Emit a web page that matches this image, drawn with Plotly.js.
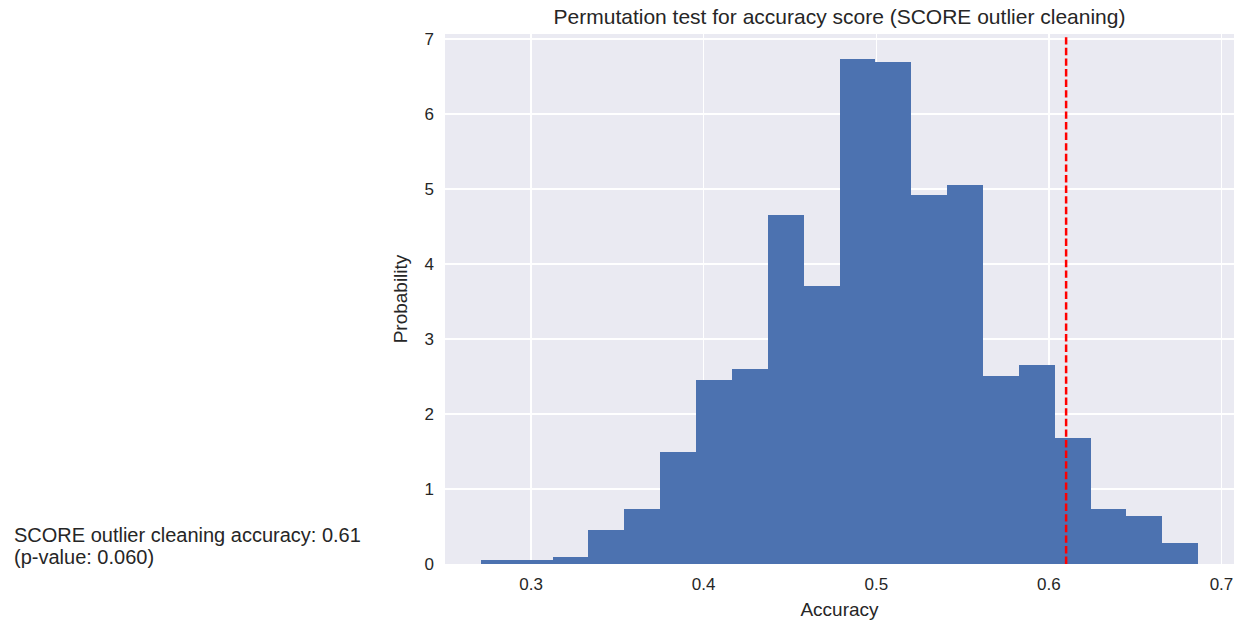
<!DOCTYPE html>
<html>
<head>
<meta charset="utf-8">
<script src="https://cdn.plot.ly/plotly-3.0.1.min.js"></script>
<style>
  html, body { margin: 0; padding: 0; background: #ffffff; }
  #chart { width: 1246px; height: 624px; }
</style>
</head>
<body>
<div id="chart"></div>
<script>
// Permutation scores histogram: range of permuted accuracies and density per bin
const scoreMin = 0.2709;
const scoreMax = 0.6865;
const binDensity = [
  0.048, 0.048, 0.097, 0.453, 0.737, 1.49, 2.457, 2.60, 4.657, 3.71,
  6.733, 6.693, 4.924, 5.06, 2.507, 2.648, 1.68, 0.739, 0.64, 0.284
];

// Observed score of the model and its permutation p-value
const observedScore = 0.61;
const pValue = 0.060;
const methodName = "SCORE outlier cleaning";

const xTickVals = [0.3, 0.4, 0.5, 0.6, 0.7];
const yTickVals = [0, 1, 2, 3, 4, 5, 6, 7];

// equal-width bins between the min and max permuted score
const nBins = binDensity.length;
const binWidth = (scoreMax - scoreMin) / nBins;
const binCenters = binDensity.map((_, i) => scoreMin + binWidth * (i + 0.5));

// matplotlib-style 5% margins on x, 5% headroom on y
const span = scoreMax - scoreMin;
const xRange = [scoreMin - 0.05 * span, scoreMax + 0.05 * span];
const yRange = [0, Math.max(...binDensity) * 1.05];

const textColor = "#262626";
const fontFamily = "Arial, 'Liberation Sans', Helvetica, sans-serif";

const histTrace = {
  type: "bar",
  x: binCenters,
  y: binDensity,
  width: binCenters.map(() => binWidth),
  marker: { color: "#4C72B0", line: { width: 0 } },
  hoverinfo: "x+y"
};

// side note placed left of the axes, in paper units
const noteX = (12 - 445) / 789.5;

const layout = {
  width: 1246,
  height: 624,
  margin: { l: 445, r: 12, t: 34, b: 59.5, pad: 0 },
  paper_bgcolor: "#ffffff",
  plot_bgcolor: "#EAEAF2",
  showlegend: false,
  bargap: 0,
  font: { family: fontFamily, color: textColor, size: 17 },
  title: {
    text: "Permutation test for accuracy score (" + methodName + ")",
    font: { family: fontFamily, size: 21, color: textColor },
    x: 0.5,
    xref: "paper",
    xanchor: "center",
    y: 1 - 16.5 / 624,
    yref: "container",
    yanchor: "middle"
  },
  xaxis: {
    range: xRange,
    tickvals: xTickVals,
    ticktext: xTickVals.map(v => v.toFixed(1)),
    showgrid: true,
    gridcolor: "#ffffff",
    gridwidth: 1.5,
    zeroline: false,
    showline: false,
    ticks: "",
    ticklabelstandoff: 8,
    tickfont: { size: 17, color: textColor },
    title: { text: "Accuracy", font: { size: 19, color: textColor }, standoff: 9 },
    fixedrange: true
  },
  yaxis: {
    range: yRange,
    tickvals: yTickVals,
    ticktext: yTickVals.map(String),
    showgrid: true,
    gridcolor: "#ffffff",
    gridwidth: 1.5,
    zeroline: false,
    showline: false,
    ticks: "",
    ticklabelstandoff: 10,
    tickfont: { size: 17, color: textColor },
    title: { text: "Probability", font: { size: 19, color: textColor }, standoff: 11 },
    fixedrange: true
  },
  shapes: [{
    type: "line",
    xref: "x",
    yref: "paper",
    x0: observedScore,
    x1: observedScore,
    y0: 0,
    y1: 1,
    line: { color: "#ff0000", width: 2.5, dash: "7.4px,3.2px" },
    layer: "above"
  }],
  annotations: [
    {
      text: methodName + " accuracy: " + observedScore.toFixed(2),
      xref: "paper", yref: "paper",
      x: noteX, y: (564.5 - 535.5) / 530.5,
      xanchor: "left", yanchor: "middle",
      showarrow: false,
      font: { size: 20, color: textColor }
    },
    {
      text: "(p-value: " + pValue.toFixed(3) + ")",
      xref: "paper", yref: "paper",
      x: noteX, y: (564.5 - 557) / 530.5,
      xanchor: "left", yanchor: "middle",
      showarrow: false,
      font: { size: 20, color: textColor }
    }
  ]
};

Plotly.newPlot("chart", [histTrace], layout, { displayModeBar: false, staticPlot: true });
</script>
</body>
</html>
